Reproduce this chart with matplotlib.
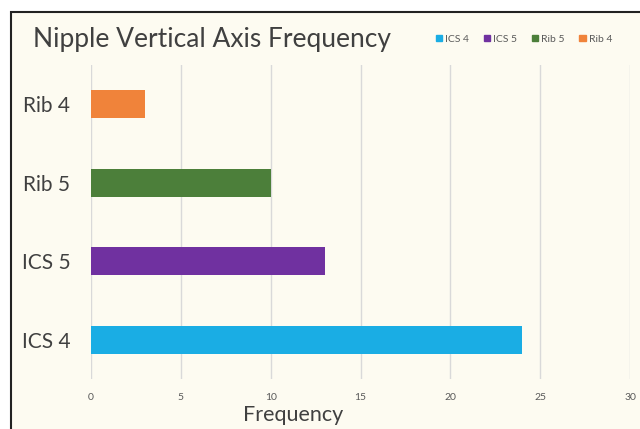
import matplotlib.pyplot as plt
from matplotlib.patches import Rectangle

plt.rcParams['font.family'] = ['Lato', 'DejaVu Sans']

categories = ["ICS 4", "ICS 5", "Rib 5", "Rib 4"]
values = [24, 13, 10, 3]
colors = ["#1AADE4", "#7031A0", "#4C7F3A", "#F0833A"]
xticks = [0, 5, 10, 15, 20, 25, 30]

fig = plt.figure(figsize=(6.4, 4.29), dpi=100, facecolor="white")

# frame + cream background
fig.patches.append(Rectangle((11 / 640, -0.1), 1.2, 1 - 12 / 429 + 0.1,
                             transform=fig.transFigure, facecolor="#FDFBF1",
                             edgecolor="#222222", linewidth=1.5, zorder=-10))

ax = fig.add_axes([91 / 640, 1 - 379 / 429, (630 - 91) / 640, (379 - 65) / 429])
ax.set_facecolor("none")

pos = range(len(categories))
ax.barh(pos, values, height=0.36, color=colors, zorder=3)

ax.set_xlim(0, 30)
ax.set_ylim(-0.5, 3.5)
ax.set_xticks(xticks)
ax.set_xticklabels([str(t) for t in xticks], fontsize=7.5, color="#595959")
ax.set_yticks(list(pos))
ax.set_yticklabels(categories, fontsize=15, color="#404040")
ax.tick_params(axis="both", length=0)
ax.tick_params(axis="x", pad=10)
ax.tick_params(axis="y", pad=15)
ax.grid(axis="x", color="#D9D9D9", linewidth=1, zorder=0)
for s in ax.spines.values():
    s.set_visible(False)

fig.text(293 / 640, 1 - 415 / 429, "Frequency", fontsize=15.5, color="#404040",
         ha="center", va="center")
fig.text(33 / 640, 1 - 40 / 429, "Nipple Vertical Axis Frequency", fontsize=19,
         color="#404040", ha="left", va="center")

handles = [Rectangle((0, 0), 1, 1, color=c) for c in colors]
fig.legend(handles, categories, loc="center", bbox_to_anchor=(524 / 640, 1 - 39 / 429),
           ncol=4, frameon=False, fontsize=7.5, labelcolor="#595959",
           handlelength=0.6, handleheight=0.6, handletextpad=0.3, columnspacing=1.4)

fig.savefig("out.png", dpi=100, facecolor=fig.get_facecolor())
